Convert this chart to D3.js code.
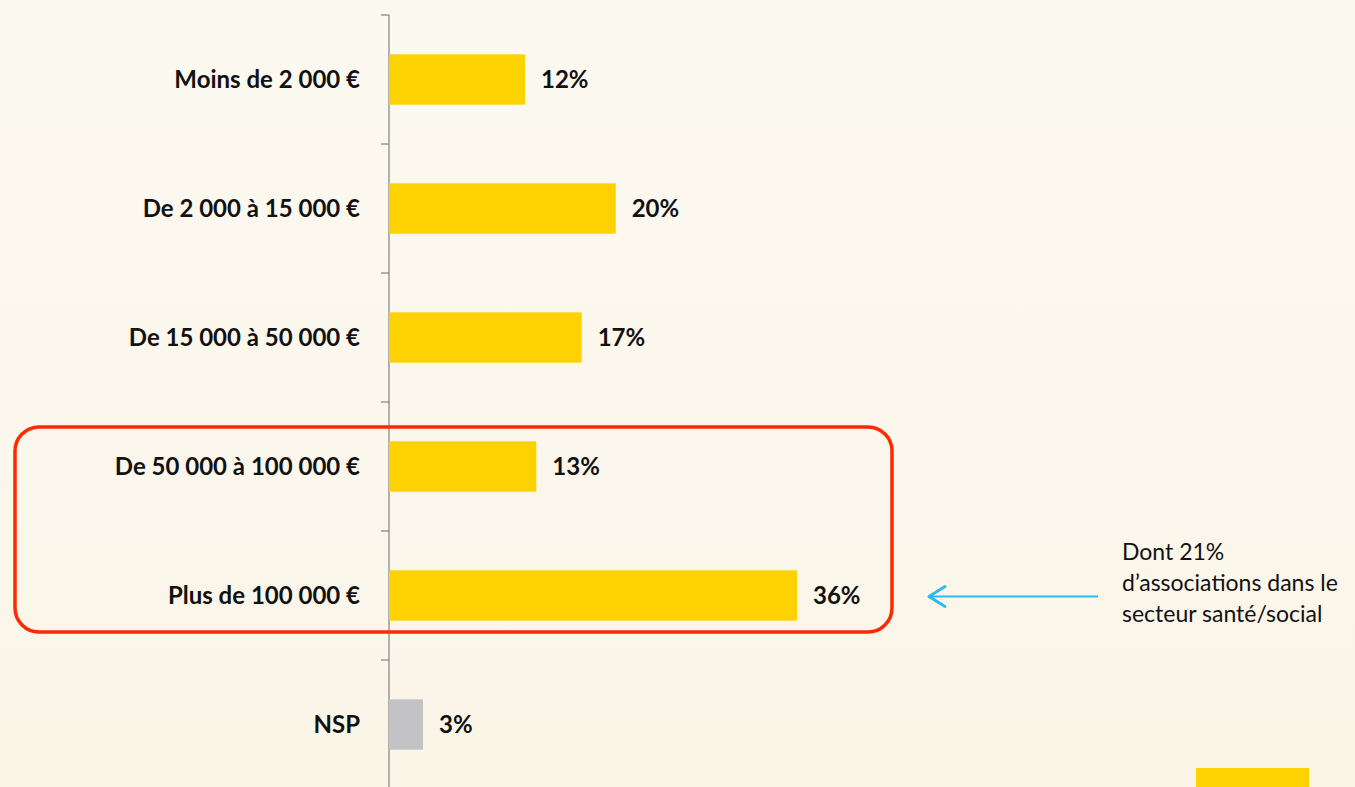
<!DOCTYPE html>
<html>
<head>
	<title> budget </title>
	<script src="https://d3js.org/d3.v7.min.js"></script>
	<style>
		body { margin: 0; background: #fbf6eb; }
		text { font-family: Lato, "Open Sans", sans-serif; }
	</style>
</head>
<body>
	<svg width="1355" height="787"></svg>
	<script type="text/javascript">
		let categories = ["Moins de 2 000 €", "De 2 000 à 15 000 €", "De 15 000 à 50 000 €",
		                  "De 50 000 à 100 000 €", "Plus de 100 000 €", "NSP"];
		let values = [12, 20, 17, 13, 36, 3];
		let valueLabels = ["12%", "20%", "17%", "13%", "36%", "3%"];
		let noteLines = ["Dont 21%", "d\u2019associations dans le", "secteur santé/social"];
		let highlighted = ["De 50 000 à 100 000 €", "Plus de 100 000 €"];

		let svg = d3.select("svg");

		// light background wash
		let defs = svg.append("defs");
		let grad = defs.append("linearGradient").attr("id", "bg").attr("x1", 0).attr("y1", 0).attr("x2", 0).attr("y2", 1);
		grad.append("stop").attr("offset", "0%").attr("stop-color", "#fcf9f1");
		grad.append("stop").attr("offset", "100%").attr("stop-color", "#fbf5e8");
		svg.append("rect").attr("width", 1355).attr("height", 787).attr("fill", "url(#bg)");

		let x = d3.scaleLinear().domain([0, 36]).range([389, 797]);
		let y = d3.scaleBand().domain(categories).range([15, 789]).paddingInner(0.61).paddingOuter(0.305);
		let gap = (y.step() - y.bandwidth()) / 2;

		// axis line and ticks between the categories
		svg.append("line")
			.attr("x1", x(0)).attr("x2", x(0))
			.attr("y1", 15).attr("y2", 787)
			.attr("stroke", "#8a8a8a").attr("stroke-width", 1.3);
		svg.selectAll(".tick").data(categories).join("line")
			.attr("class", "tick")
			.attr("x1", x(0) - 8).attr("x2", x(0))
			.attr("y1", d => y(d) - gap).attr("y2", d => y(d) - gap)
			.attr("stroke", "#8a8a8a").attr("stroke-width", 1.3);

		// bars
		svg.selectAll(".bar").data(categories).join("rect")
			.attr("class", "bar")
			.attr("x", x(0))
			.attr("y", d => y(d))
			.attr("width", (d, i) => x(values[i]) - x(0))
			.attr("height", y.bandwidth())
			.attr("fill", d => d === "NSP" ? "#c3c3c7" : "#fed100");

		// category labels
		svg.selectAll(".cat").data(categories).join("text")
			.attr("class", "cat")
			.attr("x", x(0) - 29)
			.attr("y", d => y(d) + y.bandwidth() / 2)
			.attr("dy", "0.35em")
			.attr("text-anchor", "end")
			.attr("font-size", 24)
			.attr("font-weight", "bold")
			.attr("fill", "#111")
			.text(d => d);

		// value labels
		svg.selectAll(".val").data(categories).join("text")
			.attr("class", "val")
			.attr("x", (d, i) => x(values[i]) + 16)
			.attr("y", d => y(d) + y.bandwidth() / 2)
			.attr("dy", "0.35em")
			.attr("font-size", 24)
			.attr("font-weight", "bold")
			.attr("fill", "#111")
			.text((d, i) => valueLabels[i]);

		// red frame around the two highest bands
		let frameTop = y(highlighted[0]) - gap + 25;
		let frameBottom = y(highlighted[1]) + y.bandwidth() + gap - 28;
		svg.append("rect")
			.attr("x", 15).attr("y", frameTop)
			.attr("width", 877).attr("height", frameBottom - frameTop)
			.attr("rx", 24).attr("ry", 24)
			.attr("fill", "none")
			.attr("stroke", "#fd2a00").attr("stroke-width", 3.5);

		// arrow and note
		let ay = y(highlighted[1]) + y.bandwidth() / 2 + 1;
		svg.append("line")
			.attr("x1", 1098).attr("x2", 929)
			.attr("y1", ay).attr("y2", ay)
			.attr("stroke", "#2fb8f5").attr("stroke-width", 2);
		svg.append("path")
			.attr("d", "M" + 945 + "," + (ay - 10) + " L" + 929 + "," + ay + " L" + 945 + "," + (ay + 10))
			.attr("fill", "none")
			.attr("stroke", "#2fb8f5").attr("stroke-width", 3)
			.attr("stroke-linecap", "round").attr("stroke-linejoin", "round");
		svg.selectAll(".note").data(noteLines).join("text")
			.attr("class", "note")
			.attr("x", 1122)
			.attr("y", (d, i) => ay - 45 + i * 31)
			.attr("dy", "0.35em")
			.attr("font-size", 23)
			.attr("fill", "#111")
			.text(d => d);

		// cut-off yellow block in the corner
		svg.append("rect")
			.attr("x", 1196).attr("y", 768)
			.attr("width", 113).attr("height", 30)
			.attr("fill", "#fed100");
	</script>
</body>
</html>
